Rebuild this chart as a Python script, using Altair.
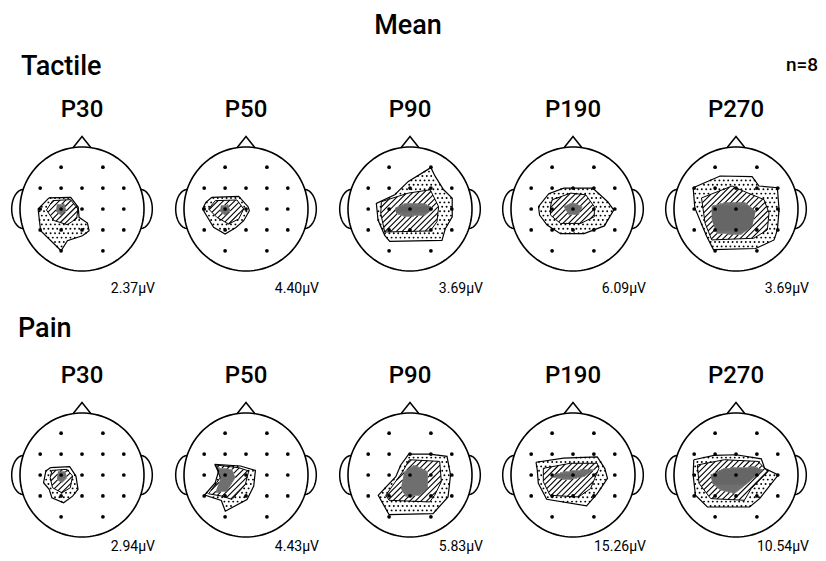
import math
import altair as alt
import pandas as pd

# ---------------- data ----------------
conditions = ["Tactile", "Pain"]
components = ["P30", "P50", "P90", "P190", "P270"]
tactile_uv = [2.37, 4.40, 3.69, 6.09, 3.69]
pain_uv = [2.94, 4.43, 5.83, 15.26, 10.54]
subjects_n = 8

# electrode grid positions (column, row) in electrode-spacing units
electrode_u = [-1, 1, -2, -1, 0, 1, 2, -2, -1, 0, 1, 2, -2, -1, 0, 1, 2, -1, 1]
electrode_v = [-2, -2, -1, -1, -1, -1, -1, 0, 0, 0, 0, 0, 1, 1, 1, 1, 1, 2, 2]

# iso-amplitude regions (outer = dotted, middle = hatched, inner = dark), electrode units
tactile_p30 = {
    "outer": [(-1.58, -0.53), (-0.54, -0.56), (-0.18, -0.08), (-0.14, 0.40), (0.26, 0.67), (0.34, 1.04),
              (0.02, 1.28), (-0.70, 1.52), (-1.0, 2.0), (-1.98, 1.04), (-2.1, 0.0)],
    "middle": [(-1.4, -0.4), (-0.55, -0.45), (-0.2, 0.0), (-0.25, 0.45), (-0.7, 0.75), (-1.35, 0.55), (-1.7, 0.05)],
    "inner": [(-1.2, -0.2), (-0.85, -0.25), (-0.75, 0.1), (-1.0, 0.3), (-1.25, 0.1)],
}
tactile_p50 = {
    "outer": [(-1.63, -0.56), (-0.35, -0.6), (0.1, -0.11), (0.16, 0.08), (-0.11, 0.56), (-0.48, 0.88),
              (-1.0, 1.2), (-1.55, 0.88), (-2.08, 0.0), (-1.92, -0.32)],
    "middle": [(-1.47, -0.4), (-0.43, -0.43), (-0.11, 0.0), (-0.35, 0.48), (-0.83, 0.72), (-1.39, 0.4), (-1.79, 0.0)],
    "inner": [(-1.2, -0.15), (-0.85, -0.2), (-0.75, 0.1), (-1.0, 0.3), (-1.25, 0.1)],
}
tactile_p90 = {
    "outer": [(1.0, -1.98), (1.2, -1.57), (1.61, -0.92), (2.02, -0.52), (2.02, 0.37), (1.69, 0.94), (1.53, 1.5),
              (-0.97, 1.55), (-1.21, 1.26), (-1.53, 0.53), (-1.61, -0.27), (-0.73, -0.68), (-0.08, -1.32)],
    "middle": [(-1.37, -0.35), (-0.08, -0.76), (0.97, -0.92), (1.37, -0.11), (1.29, 0.61), (0.97, 1.05),
               (-1.21, 1.1), (-1.4, 0.21)],
    "inner": [(-0.73, -0.03), (-0.24, -0.27), (0.73, -0.24), (1.13, -0.03), (0.73, 0.29), (-0.24, 0.37), (-0.65, 0.21)],
}
tactile_p190 = {
    "outer": [(-1.65, -0.11), (-1.16, -0.73), (-0.44, -1.0), (0.94, -1.0), (1.66, -0.35), (1.95, 0.05), (1.5, 0.81),
              (0.53, 1.18), (-0.6, 1.18), (-1.24, 0.77), (-1.6, 0.29)],
    "middle": [(-1.0, -0.44), (-0.11, -0.76), (0.61, -0.68), (1.02, -0.11), (1.02, 0.37), (0.37, 0.69),
               (-0.6, 0.69), (-1.08, 0.29), (-1.08, -0.11)],
    "inner": [(-0.44, -0.11), (-0.03, -0.31), (0.45, -0.11), (0.29, 0.24), (-0.19, 0.29)],
}
tactile_p270 = {
    "outer": [(-2.05, -1.02), (-0.76, -1.58), (0.77, -1.55), (1.1, -1.1), (1.98, -1.02), (2.06, 0.03), (1.98, 1.0),
              (1.82, 1.48), (0.94, 1.89), (-1.08, 1.94), (-1.4, 1.32), (-1.97, -0.05)],
    "middle": [(-1.65, -0.53), (-0.19, -1.1), (0.37, -0.85), (1.34, -0.45), (1.58, 0.19), (1.5, 1.0), (0.85, 1.4),
               (-1.16, 1.48), (-1.48, 0.68)],
    "inner": [(-1.16, -0.13), (-0.6, -0.29), (0.45, -0.29), (0.94, 0.11), (0.77, 0.84), (0.21, 1.24), (-0.92, 1.16),
              (-1.16, 0.52)],
}
pain_p30 = {
    "outer": [(-1.52, -0.35), (-0.59, -0.4), (-0.29, 0.05), (-0.19, 0.69), (-0.45, 1.01), (-0.88, 1.33),
              (-1.44, 1.09), (-1.57, 0.69), (-1.84, 0.37), (-1.73, -0.19)],
    "middle": [(-1.44, -0.22), (-0.72, -0.27), (-0.45, 0.05), (-0.56, 0.61), (-0.96, 0.85), (-1.41, 0.61), (-1.52, 0.13)],
    "inner": [(-1.15, -0.16), (-0.8, -0.16), (-0.72, 0.13), (-0.96, 0.37), (-1.2, 0.21)],
}
pain_p50 = {
    "outer": [(-1.5, -0.51), (-0.27, -0.43), (0.45, -0.22), (0.37, 0.53), (0.05, 1.17), (-0.99, 1.73),
              (-1.18, 1.22), (-1.98, 0.96), (-1.47, 0.37), (-1.31, -0.19)],
    "middle": [(-1.47, -0.48), (-0.35, -0.35), (0.13, -0.19), (-0.03, 0.45), (-0.67, 1.17), (-1.15, 1.01),
               (-1.79, 0.9), (-1.23, 0.13)],
    "inner": [(-1.39, -0.35), (-0.67, -0.27), (-0.51, 0.13), (-0.91, 0.77), (-1.47, 0.85), (-1.23, 0.21)],
}
pain_p90 = {
    "outer": [(-0.06, -1.0), (0.94, -1.0), (1.77, -0.89), (1.94, 0.0), (1.82, 1.05), (1.1, 1.85), (-1.0, 1.9),
              (-1.52, 0.97), (-0.68, 0.08), (-0.44, -0.48)],
    "middle": [(-0.03, -0.73), (1.42, -0.65), (1.5, 0.32), (1.18, 0.97), (0.94, 1.29), (-1.0, 1.21), (-1.16, 0.97),
               (-0.35, -0.16)],
    "inner": [(-0.27, -0.16), (0.21, -0.48), (0.85, -0.16), (0.85, 0.65), (0.45, 0.97), (-0.19, 1.05), (-0.44, 0.65)],
}
pain_p190 = {
    "outer": [(-1.77, -0.61), (-0.45, -0.81), (1.16, -0.87), (1.52, -0.32), (1.65, 0.16), (1.16, 0.89),
              (0.65, 1.48), (-1.26, 1.16), (-1.66, 0.4), (-1.71, -0.24)],
    "middle": [(-1.42, -0.32), (-0.13, -0.56), (1.16, -0.56), (1.24, -0.32), (0.84, 0.65), (0.27, 1.05),
               (-1.1, 0.97), (-1.42, 0.32)],
    "inner": [(-1.1, 0.08), (-0.45, -0.16), (0.35, -0.24), (1.0, -0.24), (0.52, 0.08), (-0.29, 0.24)],
}
pain_p270 = {
    "outer": [(-2.02, -0.73), (-1.05, -0.94), (0.0, -0.97), (1.21, -0.77), (1.37, -0.32), (2.02, 0.0),
              (1.13, 1.13), (0.65, 1.53), (-1.37, 1.53), (-1.94, 0.97), (-2.05, 0.0)],
    "middle": [(-1.85, -0.48), (-0.56, -0.73), (1.05, -0.65), (1.53, -0.16), (0.73, 0.65), (0.4, 1.21),
               (-1.21, 1.13), (-1.77, 0.4)],
    "inner": [(-1.21, 0.0), (-0.56, -0.32), (0.89, -0.4), (1.29, -0.24), (0.24, 0.65), (-0.08, 0.89),
              (-0.73, 0.73), (-1.13, 0.4)],
}

maps = {
    "Tactile": [tactile_p30, tactile_p50, tactile_p90, tactile_p190, tactile_p270],
    "Pain": [pain_p30, pain_p50, pain_p90, pain_p190, pain_p270],
}
amplitudes = {"Tactile": tactile_uv, "Pain": pain_uv}

# ---------------- layout (pixel-like data units) ----------------
head_x = [82, 246, 410, 573, 736]
row_y = [209, 475]
R = 62.0          # head radius
S = 20.9          # electrode spacing
FONT = "Roboto"


def inside(px, py, poly):
    c = False
    n = len(poly)
    for i in range(n):
        x1, y1 = poly[i]
        x2, y2 = poly[(i + 1) % n]
        if (y1 > py) != (y2 > py):
            xi = x1 + (py - y1) * (x2 - x1) / (y2 - y1)
            if px < xi:
                c = not c
    return c


def line_intervals(poly, nrm, k):
    nx, ny = nrm
    dx, dy = -ny, nx
    ss = []
    n = len(poly)
    for i in range(n):
        a = poly[i]
        b = poly[(i + 1) % n]
        fa = a[0] * nx + a[1] * ny - k
        fb = b[0] * nx + b[1] * ny - k
        if (fa > 0) != (fb > 0):
            t = fa / (fa - fb)
            px = a[0] + t * (b[0] - a[0])
            py = a[1] + t * (b[1] - a[1])
            ss.append(px * dx + py * dy)
    ss.sort()
    return [(ss[i], ss[i + 1]) for i in range(0, len(ss) - 1, 2)]


def subtract(A, B):
    out = []
    for a0, a1 in A:
        pieces = [(a0, a1)]
        for b0, b1 in B:
            nxt = []
            for p0, p1 in pieces:
                if b1 <= p0 or b0 >= p1:
                    nxt.append((p0, p1))
                else:
                    if b0 > p0:
                        nxt.append((p0, b0))
                    if b1 < p1:
                        nxt.append((b1, p1))
            pieces = nxt
        out.extend(pieces)
    return out


def fill_segments(poly, hole, nrm, spacing):
    nx, ny = nrm
    dx, dy = -ny, nx
    ks = [p[0] * nx + p[1] * ny for p in poly]
    k = math.floor(min(ks) / spacing) * spacing
    segs = []
    while k <= max(ks):
        iv = line_intervals(poly, nrm, k)
        if hole is not None:
            iv = subtract(iv, line_intervals(hole, nrm, k))
        for s0, s1 in iv:
            if s1 - s0 > 0.4:
                segs.append({
                    "x": k * nx + s0 * dx, "y": k * ny + s0 * dy,
                    "x2": k * nx + s1 * dx, "y2": k * ny + s1 * dy,
                })
        k += spacing
    return segs


lines, electrodes, stipple, hatch, dark = [], [], [], [], []
sid = 0


def add_line(pts, w):
    global sid
    for i, (x, y) in enumerate(pts):
        lines.append({"id": sid, "i": i, "x": x, "y": y, "w": w})
    sid += 1


d45 = 1 / math.sqrt(2)
DOT = 4.4
for r, cond in enumerate(conditions):
    cy = row_y[r]
    for c, comp in enumerate(components):
        cx = head_x[c]
        m = maps[cond][c]
        outer = [(cx + u * S, cy + v * S) for u, v in m["outer"]]
        middle = [(cx + u * S, cy + v * S) for u, v in m["middle"]]
        inner = [(cx + u * S, cy + v * S) for u, v in m["inner"]]

        # dotted zone
        xs = [p[0] for p in outer]
        ys = [p[1] for p in outer]
        gy = math.floor(min(ys) / DOT) * DOT
        while gy <= max(ys):
            off = DOT / 2 if int(round(gy / DOT)) % 2 else 0.0
            gx = math.floor(min(xs) / DOT) * DOT + off
            while gx <= max(xs):
                if inside(gx, gy, outer) and not inside(gx, gy, middle):
                    stipple.append({"x": gx, "y": gy})
                gx += DOT
            gy += DOT

        hatch.extend(fill_segments(middle, inner, (d45, d45), 4.0))
        dark.extend(fill_segments(inner, None, (0.0, 1.0), 1.0))

        add_line(outer + [outer[0]], 1.2)
        add_line(middle + [middle[0]], 1.0)

        # head outline
        add_line([(cx + R * math.cos(2 * math.pi * i / 144), cy + R * math.sin(2 * math.pi * i / 144))
                  for i in range(145)], 1.6)
        ear_dx, ear_a, ear_b = 58.5, 11.8, 19.5
        add_line([(cx - ear_dx + ear_a * math.cos(math.pi / 2 + math.pi * i / 40),
                   cy + ear_b * math.sin(math.pi / 2 + math.pi * i / 40)) for i in range(41)], 1.5)
        add_line([(cx + ear_dx + ear_a * math.cos(-math.pi / 2 + math.pi * i / 40),
                   cy + ear_b * math.sin(-math.pi / 2 + math.pi * i / 40)) for i in range(41)], 1.5)
        add_line([(cx - 9, cy - R + 0.8), (cx, cy - R - 10.5), (cx + 9, cy - R + 0.8)], 1.5)

        for u, v in zip(electrode_u, electrode_v):
            electrodes.append({"x": cx + u * S, "y": cy + v * S})

# texts
label_base = [117, 383]
amp_base = [293, 551]
heading_text = [{"x": 408, "y": 34, "t": "Mean", "s": 27, "a": "center"},
                {"x": 21, "y": 75, "t": "Tactile", "s": 27, "a": "left"},
                {"x": 18, "y": 337, "t": "Pain", "s": 27, "a": "left"},
                {"x": 818, "y": 70.5, "t": f"n={subjects_n}", "s": 19, "a": "right"}]
comp_text, amp_text = [], []
for r, cond in enumerate(conditions):
    for c, comp in enumerate(components):
        comp_text.append({"x": head_x[c], "y": label_base[r], "t": comp, "s": 24})
        amp_text.append({"x": head_x[c] + 73, "y": amp_base[r],
                         "t": f"{amplitudes[cond][c]:.2f}\u00b5V", "s": 14})

X = alt.X("x:Q", scale=alt.Scale(domain=[8, 818], nice=False, zero=False), axis=None)
Y = alt.Y("y:Q", scale=alt.Scale(domain=[8, 553], nice=False, zero=False, reverse=True), axis=None)

stip_layer = alt.Chart(pd.DataFrame(stipple)).mark_circle(size=3.6, color="black", opacity=1).encode(x=X, y=Y)
hatch_layer = alt.Chart(pd.DataFrame(hatch)).mark_rule(color="black", strokeWidth=1.1).encode(
    x=X, y=Y, x2="x2:Q", y2="y2:Q")
dark_layer = alt.Chart(pd.DataFrame(dark)).mark_rule(color="#5c5c5c", strokeWidth=1.3).encode(
    x=X, y=Y, x2="x2:Q", y2="y2:Q")
line_layer = alt.Chart(pd.DataFrame(lines)).mark_line(color="black").encode(
    x=X, y=Y, detail="id:N", order="i:Q", strokeWidth=alt.StrokeWidth("w:Q", scale=None))
elec_layer = alt.Chart(pd.DataFrame(electrodes)).mark_circle(size=14, color="black", opacity=1).encode(x=X, y=Y)

heading_layers = [
    alt.Chart(pd.DataFrame([row for row in heading_text if row["a"] == a])).mark_text(
        align=a, baseline="alphabetic", font=FONT, fontWeight=500, color="black"
    ).encode(x=X, y=Y, text="t:N", size=alt.Size("s:Q", scale=None))
    for a in ["center", "left", "right"]
]
comp_layer = alt.Chart(pd.DataFrame(comp_text)).mark_text(
    align="center", baseline="alphabetic", font=FONT, fontWeight=500, color="black"
).encode(x=X, y=Y, text="t:N", size=alt.Size("s:Q", scale=None))
amp_layer = alt.Chart(pd.DataFrame(amp_text)).mark_text(
    align="right", baseline="alphabetic", font=FONT, fontWeight="normal", color="black"
).encode(x=X, y=Y, text="t:N", size=alt.Size("s:Q", scale=None))

chart = alt.layer(
    stip_layer, hatch_layer, dark_layer, line_layer, elec_layer, comp_layer, amp_layer, *heading_layers
).properties(width=810, height=545, padding=0, background="white").configure_view(stroke=None)

chart.save("out.html", embed_options={"renderer": "svg", "actions": False})
